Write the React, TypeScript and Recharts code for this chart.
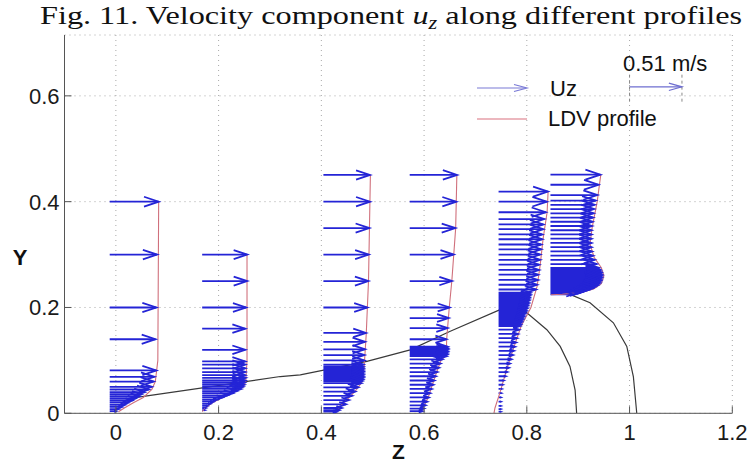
import React from 'react';
import { ComposedChart, Line, XAxis, YAxis, CartesianGrid, ReferenceLine } from 'recharts';

// ---------- data ----------
const ARROW_SCALE = 0.2; // z-units drawn per 1 m/s
const REF_SPEED = 0.51; // m/s reference arrow
const REF_Z = 1.0;
const REF_Y = 0.617;

const xTicks = [0, 0.2, 0.4, 0.6, 0.8, 1, 1.2];
const yTicks = [0, 0.2, 0.4, 0.6];
const xTickLabels = ['0', '0.2', '0.4', '0.6', '0.8', '1', '1.2'];
const yTickLabels = ['0', '0.2', '0.4', '0.6'];

// z position of each measured profile
const profileZ = [-0.012, 0.168, 0.404, 0.572, 0.745, 0.846];

// profile 1
const y1 = [0.4, 0.3, 0.2, 0.14, 0.081, 0.069, 0.06, 0.05, 0.045, 0.04, 0.036, 0.032, 0.028, 0.024, 0.02, 0.016, 0.012, 0.008, 0.004];
const u1 = [0.477, 0.461, 0.454, 0.445, 0.454, 0.435, 0.428, 0.41, 0.38, 0.34, 0.31, 0.29, 0.25, 0.22, 0.18, 0.15, 0.12, 0.09, 0.06];
// profile 2
const y2 = [0.3, 0.25, 0.2, 0.16, 0.12, 0.098, 0.092, 0.085, 0.078, 0.072, 0.067, 0.062, 0.058, 0.054, 0.05, 0.046, 0.042, 0.038, 0.034, 0.03, 0.026, 0.022, 0.018, 0.014, 0.01, 0.006];
const u2 = [0.438, 0.438, 0.428, 0.42, 0.42, 0.42, 0.42, 0.42, 0.42, 0.42, 0.425, 0.42, 0.415, 0.41, 0.4, 0.38, 0.34, 0.3, 0.25, 0.2, 0.15, 0.11, 0.08, 0.05, 0.035, 0.025];
// profile 3
const y3 = [0.4505, 0.4, 0.35, 0.3, 0.25, 0.2, 0.152, 0.135, 0.121, 0.11, 0.1, 0.092, 0.088, 0.085, 0.082, 0.079, 0.076, 0.073, 0.07, 0.067, 0.064, 0.061, 0.057, 0.049, 0.041, 0.033, 0.025, 0.017, 0.01, 0.006, 0.003];
const u3 = [0.454, 0.454, 0.448, 0.441, 0.438, 0.428, 0.415, 0.405, 0.405, 0.4, 0.4, 0.39, 0.39, 0.39, 0.39, 0.39, 0.39, 0.39, 0.39, 0.39, 0.385, 0.38, 0.37, 0.34, 0.31, 0.28, 0.25, 0.22, 0.18, 0.155, 0.13];
// profile 4
const y4 = [0.4505, 0.4, 0.35, 0.3, 0.25, 0.2, 0.18, 0.161, 0.14, 0.126, 0.123, 0.12, 0.117, 0.114, 0.111, 0.108, 0.102, 0.094, 0.086, 0.078, 0.07, 0.062, 0.054, 0.046, 0.038, 0.03, 0.022, 0.015, 0.009, 0.004];
const u4 = [0.461, 0.454, 0.445, 0.428, 0.412, 0.389, 0.38, 0.37, 0.357, 0.37, 0.372, 0.372, 0.37, 0.368, 0.365, 0.36, 0.32, 0.3, 0.285, 0.27, 0.255, 0.24, 0.23, 0.215, 0.2, 0.185, 0.17, 0.155, 0.14, 0.125];
// profile 5
const y5 = [0.419, 0.4, 0.38, 0.367, 0.357, 0.348, 0.338, 0.329, 0.319, 0.31, 0.3, 0.29, 0.281, 0.271, 0.262, 0.252, 0.243, 0.234,
  0.228, 0.225, 0.222, 0.219, 0.216, 0.213, 0.21, 0.207, 0.204, 0.201, 0.198, 0.195, 0.192, 0.189, 0.186, 0.183, 0.18, 0.177, 0.174, 0.171, 0.168, 0.165,
  0.158, 0.15, 0.142, 0.134, 0.126, 0.118, 0.11, 0.102, 0.094, 0.086, 0.078, 0.07, 0.062, 0.054, 0.046, 0.038, 0.03, 0.022, 0.014, 0.008, 0.003];
const u5 = [0.48, 0.47, 0.46, 0.445, 0.435, 0.435, 0.425, 0.425, 0.415, 0.415, 0.405, 0.405, 0.395, 0.395, 0.385, 0.385, 0.375, 0.365,
  0.31, 0.31, 0.305, 0.3, 0.3, 0.295, 0.29, 0.29, 0.285, 0.28, 0.275, 0.27, 0.265, 0.26, 0.25, 0.245, 0.24, 0.235, 0.225, 0.22, 0.215, 0.21,
  0.2, 0.19, 0.18, 0.17, 0.16, 0.15, 0.14, 0.125, 0.11, 0.1, 0.085, 0.07, 0.05, 0.04, 0.03, 0.025, 0.02, 0.02, 0.02, 0.02, 0.02];
// profile 6
const y6 = [0.451, 0.432, 0.4125, 0.402, 0.394, 0.386, 0.378, 0.37, 0.362, 0.354, 0.346, 0.338, 0.33, 0.322, 0.314, 0.306, 0.298, 0.29, 0.282, 0.275,
  0.272, 0.269, 0.266, 0.263, 0.26, 0.257, 0.254, 0.251, 0.248, 0.245, 0.242, 0.239, 0.236, 0.233, 0.23, 0.227, 0.225];
const u6 = [0.486, 0.467, 0.457, 0.44, 0.43, 0.425, 0.42, 0.415, 0.41, 0.405, 0.4, 0.4, 0.4, 0.4, 0.4, 0.405, 0.415, 0.43, 0.45, 0.47,
  0.48, 0.49, 0.495, 0.5, 0.5, 0.5, 0.495, 0.49, 0.485, 0.475, 0.46, 0.44, 0.41, 0.37, 0.32, 0.27, 0.22];

// LDV measured profiles (z, y)
const ldv1Z = [0.0833, 0.0817, 0.0768, 0.07, 0.0535, 0.034, 0.0165, 0.005];
const ldv1Y = [0.4, 0.1, 0.06, 0.045, 0.03, 0.02, 0.01, 0.003];
const ldv2Z = [0.2553, 0.2553, 0.2529, 0.248, 0.2286, 0.2072, 0.1877, 0.1741, 0.1683];
const ldv2Y = [0.3, 0.1, 0.06, 0.05, 0.04, 0.03, 0.02, 0.01, 0.003];
const ldv3Z = [0.4955, 0.4918, 0.4874, 0.4835, 0.4796, 0.468, 0.4543, 0.4387, 0.429];
const ldv3Y = [0.451, 0.25, 0.15, 0.09, 0.06, 0.044, 0.03, 0.015, 0.003];
const ldv4Z = [0.6638, 0.6615, 0.654, 0.649, 0.644, 0.643, 0.633, 0.6216, 0.608, 0.594];
const ldv4Y = [0.451, 0.35, 0.25, 0.2, 0.14, 0.11, 0.1, 0.07, 0.03, 0.003];
const ldv5Z = [0.8415, 0.8395, 0.8317, 0.826, 0.82, 0.808, 0.789, 0.773, 0.76, 0.748, 0.738, 0.736];
const ldv5Y = [0.42, 0.38, 0.33, 0.28, 0.24, 0.2, 0.165, 0.12, 0.08, 0.04, 0.01, 0.0];
const ldv6Z = [0.944, 0.937, 0.927, 0.923, 0.931, 0.945, 0.95, 0.945, 0.93, 0.904, 0.869, 0.847];
const ldv6Y = [0.451, 0.4, 0.35, 0.32, 0.295, 0.275, 0.26, 0.245, 0.235, 0.228, 0.225, 0.224];

// black boundary curves
const bedZ = [0.02, 0.0607, 0.32, 0.359, 0.4887, 0.573, 0.651, 0.748, 0.775, 0.8, 0.839, 0.865, 0.884, 0.894, 0.897];
const bedY = [0.027, 0.0328, 0.0695, 0.0727, 0.098, 0.12, 0.155, 0.196, 0.202, 0.19, 0.158, 0.1265, 0.0885, 0.044, 0.0];
const jetZ = [0.85, 0.884, 0.923, 0.9685, 0.9946, 1.0074, 1.014];
const jetY = [0.226, 0.2248, 0.209, 0.171, 0.1265, 0.0695, 0.0];

// ---------- builders ----------
type Pt = { x: number; y: number | null; tip?: boolean };

function arrows(z0: number, ys: number[], us: number[]): Pt[] {
  const out: Pt[] = [];
  ys.forEach((y, i) => {
    const z1 = z0 + us[i] * ARROW_SCALE;
    out.push({ x: z0, y });
    out.push({ x: z1, y, tip: true });
    out.push({ x: z1, y: null });
  });
  return out;
}
function curve(zs: number[], ys: number[]): Pt[] {
  return zs.map((z, i) => ({ x: z, y: ys[i] }));
}

const arrowSets = [
  arrows(profileZ[0], y1, u1),
  arrows(profileZ[1], y2, u2),
  arrows(profileZ[2], y3, u3),
  arrows(profileZ[3], y4, u4),
  arrows(profileZ[4], y5, u5),
  arrows(profileZ[5], y6, u6),
];
const ldvSets = [
  curve(ldv1Z, ldv1Y), curve(ldv2Z, ldv2Y), curve(ldv3Z, ldv3Y),
  curve(ldv4Z, ldv4Y), curve(ldv5Z, ldv5Y), curve(ldv6Z, ldv6Y),
];
const refArrow = arrows(REF_Z, [REF_Y], [REF_SPEED]);

const BLUE = '#2424d6';
const FONT = "'Liberation Sans', Arial, Helvetica, sans-serif";

const makeHead = (color: string, sw: number, ratio: number, hwRatio: number) => (p: any) => {
  const { cx, cy, index, payload, points } = p;
  if (!payload || !payload.tip || cx == null || cy == null) return <g key={`h${index}`} />;
  const prev = points && points[index - 1];
  const L = prev && prev.x != null ? cx - prev.x : 40;
  const hl = L * ratio;
  const hw = L * hwRatio;
  return (
    <path
      key={`h${index}`}
      d={`M${cx - hl},${cy - hw}L${cx},${cy}L${cx - hl},${cy + hw}`}
      fill="none"
      stroke={color}
      strokeWidth={sw}
    />
  );
};

const blueHead = makeHead(BLUE, 1.8, 0.3, 0.1);
const refHead = makeHead('#6e6ed0', 1.2, 0.25, 0.07);

const XTick = (props: any) => {
  const { x, y, index } = props;
  return (
    <g>
      <line x1={x} x2={x} y1={y} y2={y - 7} stroke="#555" strokeWidth={1} />
      <text x={x} y={y + 27} textAnchor="middle" fontFamily={FONT} fontSize={22} fill="#1a1a1a">
        {xTickLabels[index]}
      </text>
    </g>
  );
};
const YTick = (props: any) => {
  const { x, y, index } = props;
  return (
    <g>
      <line x1={x} x2={x + 7} y1={y} y2={y} stroke="#555" strokeWidth={1} />
      <text x={x - 5} y={y + 8} textAnchor="end" fontFamily={FONT} fontSize={22} fill="#1a1a1a">
        {yTickLabels[index]}
      </text>
    </g>
  );
};

export default function App() {
  return (
    <div style={{ position: 'absolute', left: 0, top: 0, width: 752, height: 466, background: '#fff' }}>
      <ComposedChart width={752} height={466} margin={{ top: 35, right: 19.7, bottom: 0, left: 0 }}>
        <CartesianGrid stroke="#a8a8a8" strokeDasharray="1 4" />
        <XAxis
          type="number"
          dataKey="x"
          domain={[-0.1, 1.2]}
          ticks={xTicks}
          interval={0}
          allowDataOverflow
          height={52.7}
          tickSize={0}
          tickMargin={0}
          tickLine={false}
          axisLine={{ stroke: '#555' }}
          tick={<XTick />}
          label={{
            content: (p: any) => {
              const vb = p.viewBox || { x: 64.5, y: 413.3, width: 667.8 };
              return (
                <text x={vb.x + vb.width / 2} y={vb.y + 46} textAnchor="middle" fontFamily={FONT} fontWeight="bold" fontSize={21} fill="#111">
                  Z
                </text>
              );
            },
          }}
        />
        <YAxis
          type="number"
          domain={[0, 0.715]}
          ticks={yTicks}
          interval={0}
          allowDataOverflow
          width={64.5}
          tickSize={0}
          tickMargin={0}
          tickLine={false}
          axisLine={{ stroke: '#555' }}
          tick={<YTick />}
          label={{
            content: () => (
              <text x={20} y={265} textAnchor="middle" fontFamily={FONT} fontWeight="bold" fontSize={22} fill="#111">
                Y
              </text>
            ),
          }}
        />
        <Line data={curve(bedZ, bedY)} dataKey="y" type="linear" stroke="#3a3a3a" strokeWidth={1.2} dot={false} activeDot={false} isAnimationActive={false} legendType="none" />
        <Line data={curve(jetZ, jetY)} dataKey="y" type="linear" stroke="#3a3a3a" strokeWidth={1.2} dot={false} activeDot={false} isAnimationActive={false} legendType="none" />
        {arrowSets.map((d, i) => (
          <Line
            key={`a${i}`}
            data={d}
            dataKey="y"
            type="linear"
            stroke={BLUE}
            strokeWidth={1.8}
            connectNulls={false}
            dot={blueHead}
            activeDot={false}
            isAnimationActive={false}
            legendType="none"
          />
        ))}
        {ldvSets.map((d, i) => (
          <Line key={`l${i}`} data={d} dataKey="y" type="linear" stroke="#d0707c" strokeWidth={1.1} dot={false} activeDot={false} isAnimationActive={false} legendType="none" />
        ))}
        <Line data={refArrow} dataKey="y" type="linear" stroke="#6e6ed0" strokeWidth={1.2} connectNulls={false} dot={refHead} activeDot={false} isAnimationActive={false} legendType="none" />
        <ReferenceLine segment={[{ x: REF_Z, y: REF_Y - 0.028 }, { x: REF_Z, y: REF_Y + 0.028 }]} stroke="#888" strokeDasharray="3 3" />
        <ReferenceLine segment={[{ x: REF_Z + REF_SPEED * ARROW_SCALE, y: REF_Y - 0.028 }, { x: REF_Z + REF_SPEED * ARROW_SCALE, y: REF_Y + 0.028 }]} stroke="#888" strokeDasharray="3 3" />
      </ComposedChart>
      <svg width={752} height={466} style={{ position: 'absolute', left: 0, top: 0, pointerEvents: 'none' }}>
        <text x={40} y={24} fontFamily="'Liberation Serif', 'DejaVu Serif', serif" fontSize={26} fill="#111" textLength={702} lengthAdjust="spacingAndGlyphs">
          Fig. 11. Velocity component <tspan fontStyle="italic">u</tspan>
          <tspan fontStyle="italic" fontSize={18} dy={5}>z</tspan>
          <tspan dy={-5}> along different profiles</tspan>
        </text>
        <line x1={477} x2={526} y1={88} y2={88} stroke="#7a7ad6" strokeWidth={1.2} />
        <path d="M514,84.5L527,88L514,91.5" fill="none" stroke="#7a7ad6" strokeWidth={1.2} />
        <text x={550} y={96} fontFamily={FONT} fontSize={22} fill="#111">Uz</text>
        <line x1={477} x2={527} y1={119} y2={119} stroke="#d9707e" strokeWidth={1.2} />
        <text x={548} y={126} fontFamily={FONT} fontSize={22} fill="#111">LDV profile</text>
        <text x={623} y={71} fontFamily={FONT} fontSize={22} fill="#111">0.51 m/s</text>
      </svg>
    </div>
  );
}
